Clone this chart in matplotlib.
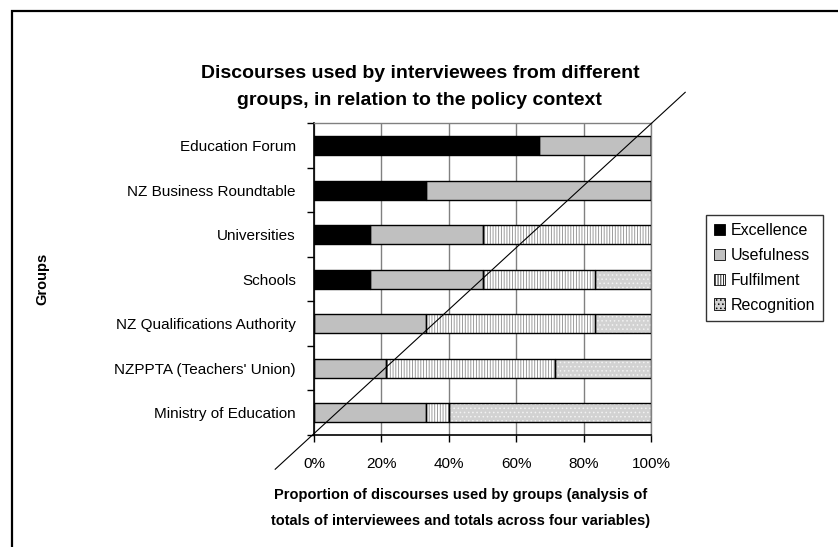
import numpy as np
import matplotlib as mpl
import matplotlib.pyplot as plt
from matplotlib.patches import Patch, Rectangle
from matplotlib.lines import Line2D

plt.rcParams['font.family'] = ['Liberation Sans', 'DejaVu Sans']
plt.rcParams['hatch.linewidth'] = 0.6

groups = ['Education Forum', 'NZ Business Roundtable', 'Universities', 'Schools',
          'NZ Qualifications Authority', "NZPPTA (Teachers' Union)",
          'Ministry of Education']
excellence = [0.667, 0.333, 0.167, 0.167, 0.0, 0.0, 0.0]
usefulness = [0.333, 0.667, 0.333, 0.333, 0.333, 0.214, 0.333]
fulfilment = [0.0, 0.0, 0.5, 0.333, 0.5, 0.5, 0.067]
recognition = [0.0, 0.0, 0.0, 0.167, 0.167, 0.286, 0.6]
xticks = [0, 0.2, 0.4, 0.6, 0.8, 1.0]
xticklabels = ['0%', '20%', '40%', '60%', '80%', '100%']

series = [('Excellence', excellence), ('Usefulness', usefulness),
          ('Fulfilment', fulfilment), ('Recognition', recognition)]
# face, hatch, hatch colour
styles = {'Excellence': ('black', None, 'black'),
          'Usefulness': ('#c0c0c0', None, '#c0c0c0'),
          'Fulfilment': ('white', '||||||', '#8c8c8c'),
          'Recognition': ('#d2d2d2', '....', '#f2f2f2')}

fig = plt.figure(figsize=(8.38, 5.47), dpi=100)
ax = fig.add_axes([0.3747, 0.2048, 0.4027, 0.5695])

y = np.arange(len(groups))
h = 0.43
left = np.zeros(len(groups))
handles = []
for name, vals in series:
    face, hatch, hc = styles[name]
    vals = np.array(vals)
    # fill + hatch first, then black outline on top
    ax.barh(y, vals, h, left=left, color=face, hatch=hatch, edgecolor=hc,
            linewidth=0, zorder=3)
    ax.barh(y, vals, h, left=left, fill=False, edgecolor='black',
            linewidth=1.0, zorder=4)
    left += vals
    handles.append(Patch(facecolor=face, hatch=hatch, edgecolor='black',
                         linewidth=0.6, label=name))

ax.set_xlim(0, 1)
ax.set_ylim(len(groups) - 0.5, -0.5)
ax.set_xticks(xticks)
ax.set_xticklabels(xticklabels, fontsize=11)
ax.set_yticks(y)
ax.set_yticklabels(groups, fontsize=11)
ax.set_yticks(np.arange(len(groups) + 1) - 0.5, minor=True)
ax.tick_params(axis='y', which='major', length=0, pad=13)
ax.tick_params(axis='y', which='minor', length=5, width=1, direction='out')
ax.tick_params(axis='x', length=5, width=1, direction='out', pad=11)

ax.xaxis.grid(True, color='#808080', linewidth=1.0, zorder=0)
ax.set_axisbelow(True)
for s in ['top', 'right']:
    ax.spines[s].set_color('#808080')
    ax.spines[s].set_linewidth(1.0)
for s in ['left', 'bottom']:
    ax.spines[s].set_color('black')
    ax.spines[s].set_linewidth(1.2)

# diagonal reference line
ax.add_line(Line2D([-0.115, 1.1], [-0.11, 1.1], transform=ax.transAxes,
                   color='black', linewidth=0.8, clip_on=False, zorder=6))

fig.text(0.501, 0.866, 'Discourses used by interviewees from different',
         ha='center', va='center', fontsize=14, fontweight='bold')
fig.text(0.501, 0.817, 'groups, in relation to the policy context',
         ha='center', va='center', fontsize=14, fontweight='bold')
fig.text(0.55, 0.095, 'Proportion of discourses used by groups (analysis of',
         ha='center', va='center', fontsize=10.5, fontweight='bold')
fig.text(0.55, 0.047, 'totals of interviewees and totals across four variables)',
         ha='center', va='center', fontsize=10.5, fontweight='bold')
fig.text(0.05, 0.49, 'Groups', rotation=90, ha='center', va='center',
         fontsize=10.5, fontweight='bold')

leg = fig.legend(handles=handles, loc='upper left',
                 bbox_to_anchor=(0.842, 0.607), fontsize=11.5,
                 frameon=True, fancybox=False, edgecolor='black',
                 handlelength=0.7, handleheight=0.7, handletextpad=0.35,
                 labelspacing=0.62, borderpad=0.5, borderaxespad=0)
leg.get_frame().set_linewidth(1.0)

# outer chart border (runs off the right and bottom edges)
fig.patches.append(Rectangle((0.0149, -0.2), 2, 0.9808 + 0.2,
                             transform=fig.transFigure, fill=False,
                             edgecolor='black', linewidth=1.6))

fig.savefig('out.png', dpi=100)
